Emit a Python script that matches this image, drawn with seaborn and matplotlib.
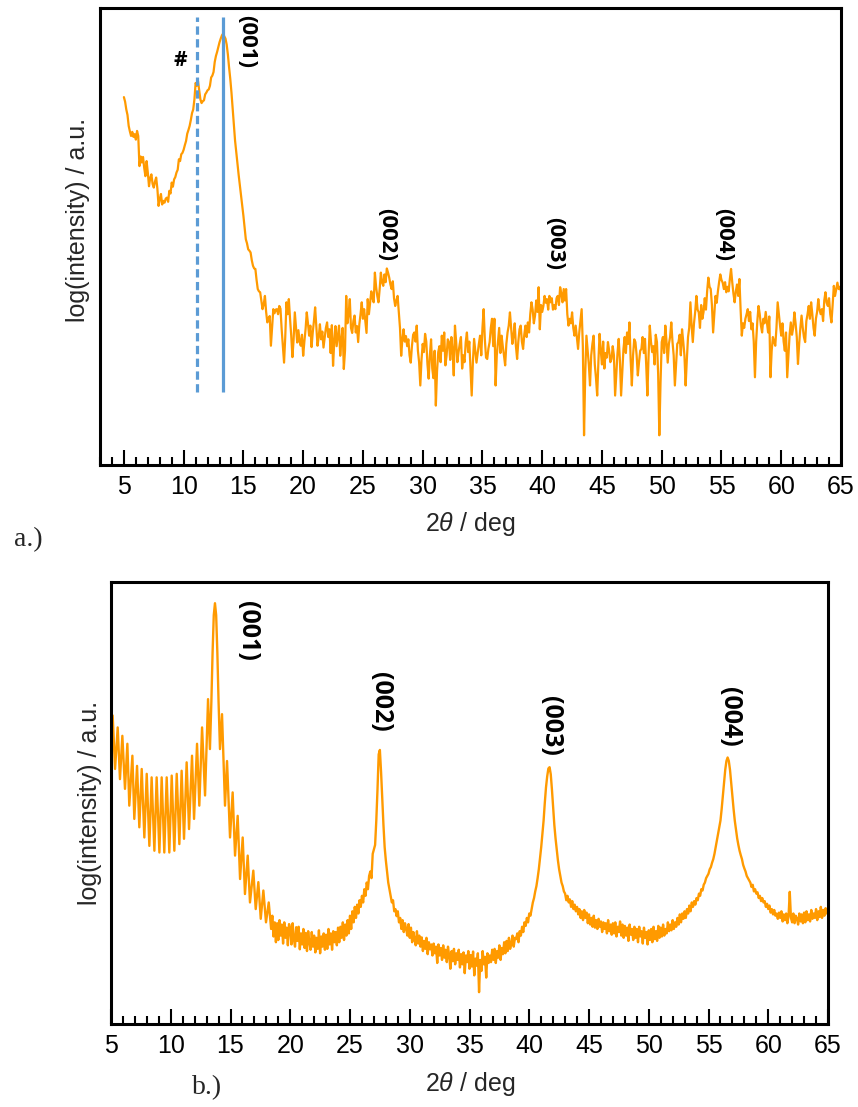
import numpy as np
import pandas as pd
import matplotlib
matplotlib.use('Agg')
import matplotlib.pyplot as plt
import seaborn as sns
from matplotlib.ticker import MultipleLocator

# ---------------- data (log intensity, arbitrary units 0-100) ----------------
# panel a: scan from 5.0 deg in 0.1 deg steps
a_start, a_step = 5.0, 0.1
a_y = [
    80.5, 79.5, 77.8, 76.6, 74.2, 73.0, 72.0, 72.9,
    71.8, 72.4, 71.2, 73.1, 72.0, 65.4, 67.5, 66.2, 67.4, 65.0,
    63.2, 66.5, 64.0, 61.0, 62.8, 63.6, 61.5, 60.7, 62.0, 62.9,
    60.5, 56.7, 58.2, 59.3, 57.0, 57.8, 57.4, 58.3, 58.5, 57.6,
    60.0, 59.4, 61.8, 60.9, 62.5, 63.0, 64.0, 64.6, 66.9, 66.5,
    68.0, 68.3, 69.0, 70.0, 70.9, 72.5, 73.3, 74.2, 75.5, 77.0,
    77.8, 80.0, 83.6, 83.0, 84.0, 82.0, 80.0, 79.2, 79.6, 79.8,
    81.1, 81.5, 82.0, 82.2, 83.0, 84.8, 85.2, 86.0, 88.2, 89.5,
    90.4, 91.5, 92.5, 93.3, 94.0, 94.4, 93.8, 93.3, 92.0, 89.8,
    87.0, 84.5, 81.5, 78.0, 74.5, 71.0, 68.5, 66.0, 63.5, 61.3,
    59.3, 57.0, 54.5, 52.0, 49.4, 48.5, 47.2, 46.9, 46.5, 44.8,
    43.6, 43.0, 42.9, 40.5, 38.5, 38.0, 37.8, 36.0, 34.1, 35.2,
    37.0, 33.5, 31.2, 32.0, 32.6, 26.1, 30.0, 34.1, 33.2, 34.0,
    34.1, 33.0, 34.8, 34.2, 29.7, 26.0, 22.4, 28.0, 35.6, 33.0,
    36.3, 32.0, 28.3, 23.6, 27.5, 33.4, 30.0, 26.8, 29.5, 27.0,
    26.1, 28.5, 23.9, 27.0, 29.7, 33.4, 31.0, 28.3, 30.5, 25.8,
    29.0, 31.5, 34.5, 30.2, 26.1, 28.0, 30.8, 27.5, 29.2, 25.7,
    27.8, 30.0, 31.2, 28.0, 29.7, 24.5, 30.6, 21.7, 27.0, 30.4,
    26.0, 28.3, 30.5, 23.9, 27.5, 30.0, 21.0, 25.0, 37.0, 31.0,
    33.0, 36.3, 30.0, 28.9, 31.5, 32.7, 29.0, 30.4, 26.9, 30.8,
    33.0, 35.6, 32.0, 34.1, 31.5, 28.9, 36.3, 33.0, 35.6, 38.0,
    36.5, 35.6, 42.1, 39.0, 37.0, 35.6, 38.5, 42.1, 40.0, 39.2,
    41.7, 40.0, 43.0, 42.1, 41.0, 39.5, 38.5, 40.2, 36.5, 34.8,
    36.0, 37.0, 33.5, 30.0, 23.9, 27.5, 29.7, 27.0, 28.2, 26.0,
    27.5, 24.0, 22.4, 26.0, 28.5, 29.0, 27.0, 30.5, 25.0, 22.5,
    17.4, 23.0, 26.5, 24.7, 28.7, 27.0, 22.0, 18.9, 24.0, 27.5,
    21.1, 19.0, 25.0, 13.0, 20.5, 24.7, 26.0, 22.5, 28.3, 25.0,
    29.0, 21.8, 24.0, 27.5, 26.9, 23.0, 28.0, 25.0, 19.6, 30.5,
    27.0, 22.5, 24.7, 26.5, 28.0, 21.1, 24.0, 22.5, 26.9, 29.0,
    24.7, 27.0, 21.0, 15.2, 22.5, 27.6, 25.0, 22.4, 24.5, 26.5,
    28.3, 24.0, 30.0, 34.1, 27.5, 23.5, 23.2, 25.5, 26.9, 30.0,
    32.0, 26.0, 32.0, 17.4, 24.0, 26.9, 30.0, 24.5, 28.3, 26.0,
    24.0, 21.8, 26.5, 29.0, 30.5, 33.4, 30.0, 26.5, 28.3, 31.0,
    26.0, 23.2, 27.0, 29.7, 30.5, 27.0, 25.4, 28.5, 30.5, 28.0,
    31.2, 29.0, 33.0, 35.6, 34.0, 31.0, 32.7, 36.0, 33.5, 38.9,
    29.7, 35.0, 33.5, 34.8, 37.0, 35.5, 36.3, 34.0, 37.0, 35.6,
    36.5, 34.0, 35.0, 34.1, 36.5, 37.0, 35.0, 38.9, 37.5, 35.6,
    38.5, 36.0, 38.5, 33.0, 30.5, 32.0, 31.0, 33.4, 30.0, 28.3,
    30.5, 28.0, 25.4, 29.0, 31.5, 34.1, 26.0, 6.5, 20.0, 28.3,
    25.0, 22.0, 17.4, 24.0, 26.5, 28.3, 22.0, 19.0, 15.2, 22.5,
    28.7, 25.0, 22.0, 27.0, 21.1, 24.5, 23.5, 26.9, 25.0, 22.5,
    23.2, 26.0, 24.0, 15.2, 20.0, 24.5, 27.6, 23.0, 15.2, 20.5,
    25.4, 28.0, 24.5, 29.0, 26.5, 31.2, 23.0, 17.4, 24.0, 27.5,
    26.9, 24.0, 19.6, 22.5, 25.0, 25.4, 28.0, 24.5, 27.6, 22.0,
    15.2, 24.0, 30.5, 27.0, 24.7, 26.0, 22.0, 28.5, 26.9, 20.0,
    6.5, 18.0, 26.9, 28.0, 24.5, 30.5, 27.0, 22.4, 26.5, 28.0,
    31.2, 27.0, 24.0, 17.4, 22.0, 26.5, 26.9, 28.5, 24.0, 29.7,
    27.0, 24.0, 17.4, 23.0, 28.0, 30.0, 35.6, 30.5, 26.9, 31.0,
    33.5, 37.0, 34.0, 33.4, 30.0, 35.0, 32.0, 33.5, 36.5, 34.0,
    38.0, 41.0, 39.0, 38.5, 35.0, 29.0, 33.0, 37.0, 35.5, 38.0,
    40.0, 41.7, 40.5, 39.9, 38.5, 40.0, 37.8, 39.0, 38.0, 40.7,
    42.9, 40.0, 37.5, 35.6, 38.0, 39.5, 37.0, 40.7, 34.0, 28.3,
    31.0, 30.0, 32.0, 33.0, 34.1, 31.5, 33.5, 29.7, 31.0, 27.0,
    19.2, 27.0, 31.5, 34.8, 33.0, 30.5, 29.0, 32.0, 31.0, 33.5,
    31.2, 29.0, 32.5, 19.2, 25.0, 28.0, 27.0, 26.1, 30.0, 35.6,
    33.0, 30.5, 28.3, 31.0, 27.0, 25.0, 29.0, 19.2, 24.0, 28.5,
    31.2, 28.5, 30.0, 33.4, 31.0, 28.0, 22.1, 26.5, 30.0, 32.7,
    30.0, 28.0, 26.9, 31.5, 33.0, 34.8, 32.0, 35.6, 33.0, 30.0,
    28.3, 32.0, 33.5, 36.3, 34.0, 33.0, 34.1, 31.5, 36.0, 37.8,
    35.5, 34.8, 36.5, 33.0, 31.2, 35.0, 39.2, 37.0, 38.5, 39.9,
    38.5, 39.0, 38.0,
]

# panel a reference lines (2theta) and labels
a_ref_pos = [11.1, 13.3]
a_ref_style = ['--', '-']
a_ref_span = (16.0, 98.0)
a_labels = ['(001)', '(002)', '(003)', '(004)']
a_label_x = [15.28, 27.0, 41.07, 55.16]
a_label_y = [98.4, 56.2, 54.3, 56.2]
a_hash_xy = (9.69, 88.6)

# panel b: Laue-fringe region (explicit points) + 0.1 deg scan beyond 18.5
b_x_fr = [5.00, 5.14, 5.34, 5.56, 5.75, 5.95, 6.17, 6.37, 6.53, 6.79, 6.95, 7.18,
          7.37, 7.57, 7.79, 7.99, 8.21, 8.40, 8.63, 8.82, 9.05, 9.24, 9.46, 9.66,
          9.88, 10.08, 10.30, 10.50, 10.72, 10.91, 11.11, 11.33, 11.53, 11.78,
          11.95, 12.20, 12.39, 12.62, 12.87, 13.12, 13.28, 13.40, 13.50, 13.60,
          13.70, 13.80, 13.90, 14.00, 14.12, 14.29, 14.54, 14.71, 14.96, 15.18,
          15.38, 15.60, 15.80, 16.02, 16.21, 16.44, 16.63, 16.91, 17.11, 17.33,
          17.53, 17.75, 17.97, 18.20, 18.40]
b_y_fr = [64.0, 69.8, 57.7, 67.1, 55.4, 65.2, 53.2, 63.4, 49.4, 60.7, 46.4, 58.4,
          44.5, 57.7, 42.2, 56.6, 40.3, 55.8, 39.2, 55.8, 38.8, 55.8, 38.8, 55.8,
          38.8, 56.2, 39.2, 56.6, 40.7, 57.3, 41.9, 59.2, 44.1, 60.7,
          46.4, 63.4, 49.4, 67.1, 51.7, 73.5, 62.2, 73.0, 84.0, 92.5,
          95.2, 92.5, 84.0, 73.0, 62.2, 70.1, 49.4, 59.5, 42.2, 52.4,
          38.1, 47.1, 32.8, 42.2, 29.4, 38.1, 27.5, 34.7, 26.0, 32.1,
          23.8, 30.2, 23.0, 27.5, 21.5]
b_start, b_step = 18.5, 0.1
b_y = [
    24.5, 19.8, 23.0, 18.5, 22.8,
    19.0, 23.5, 20.0, 22.5, 18.2, 23.0, 19.5, 21.8, 17.8, 22.6,
    21.5, 18.0, 22.8, 19.2, 17.5, 21.9, 18.8, 22.0, 16.9, 20.5,
    18.0, 21.5, 17.2, 20.6, 16.5, 21.0, 18.5, 16.8, 20.8, 17.5,
    20.0, 16.2, 19.5, 17.0, 21.2, 16.0, 19.8, 17.5, 20.5, 16.8,
    20.2, 17.0, 21.5, 18.0, 20.5, 16.8, 21.0, 18.5, 20.8, 17.8,
    21.8, 18.5, 22.0, 19.5, 23.0, 19.0, 22.5, 20.0, 23.5, 20.5,
    24.5, 21.5, 25.5, 23.0, 26.5, 24.0, 27.0, 25.0, 28.0, 26.5,
    29.0, 27.5, 30.5, 29.0, 32.0, 30.5, 33.5, 34.5, 33.0, 38.5,
    39.5, 40.5, 46.0, 53.0, 61.0, 62.0, 57.0, 51.0, 45.0, 40.0,
    37.0, 34.5, 32.0, 30.5, 29.0, 27.5, 28.0, 25.5, 26.0, 24.4,
    25.5, 23.0, 24.0, 21.5, 23.5, 20.8, 22.8, 21.5, 20.0, 22.6,
    19.5, 21.8, 18.5, 20.8, 19.2, 17.8, 21.0, 18.2, 20.0, 17.5,
    19.6, 16.5, 18.8, 17.0, 19.5, 15.8, 18.5, 16.9, 18.0, 15.5,
    18.2, 16.0, 17.5, 13.8, 18.0, 15.5, 17.2, 14.5, 17.8, 15.0,
    16.8, 14.0, 17.5, 15.4, 12.5, 16.5, 14.2, 17.0, 13.5, 16.0,
    14.5, 16.8, 12.8, 15.8, 13.5, 16.2, 11.5, 15.5, 14.0, 16.5,
    12.5, 15.6, 13.0, 16.4, 11.0, 14.8, 13.2, 16.0, 7.2, 14.5,
    12.0, 16.5, 13.5, 15.2, 10.5, 16.0, 13.8, 15.5, 14.0, 16.8,
    14.5, 17.0, 13.8, 16.5, 15.0, 17.8, 14.5, 17.2, 15.8, 18.5,
    16.0, 18.8, 16.5, 19.5, 17.0, 18.2, 20.0, 17.5, 19.5, 19.2,
    20.5, 18.5, 21.0, 20.0, 22.0, 20.8, 23.0, 22.2, 24.0, 23.0,
    25.0, 24.5, 26.0, 27.5, 28.5, 30.0, 31.2, 33.0, 35.0, 37.5,
    40.0, 43.0, 46.0, 50.0, 53.5, 56.0, 57.8, 58.1, 56.5, 53.0,
    49.0, 45.0, 42.0, 39.5, 37.0, 35.0, 33.5, 32.0, 31.2, 30.0,
    29.5, 28.0, 29.0, 27.5, 28.2, 26.5, 27.8, 26.0, 27.0, 25.5,
    26.5, 24.8, 26.0, 24.0, 25.5, 23.5, 25.8, 24.0, 25.2, 22.8,
    24.8, 22.5, 24.0, 22.0, 24.5, 21.8, 23.5, 21.5, 23.8, 22.0,
    23.2, 20.8, 23.0, 21.5, 22.8, 20.5, 23.5, 21.0, 22.5, 20.2,
    22.8, 20.5, 23.0, 19.8, 22.0, 20.8, 23.2, 20.0, 22.5, 19.5,
    22.2, 20.0, 21.8, 18.8, 22.5, 20.2, 21.5, 19.0, 22.0, 19.5,
    21.5, 18.5, 22.0, 19.8, 21.0, 18.2, 21.8, 19.5, 20.8, 18.0,
    21.2, 19.0, 21.5, 18.5, 22.0, 19.2, 21.0, 18.8, 22.2, 19.5,
    21.8, 19.8, 22.5, 20.0, 21.5, 20.5, 23.0, 21.0, 22.5, 21.2,
    23.5, 21.5, 23.0, 22.0, 24.0, 22.5, 24.8, 23.0, 25.0, 23.8,
    25.5, 24.0, 26.0, 25.0, 26.8, 25.5, 27.5, 26.5, 27.8, 27.0,
    28.5, 28.0, 29.5, 29.0, 30.5, 30.2, 31.5, 32.0, 33.0, 33.5,
    34.0, 35.0, 35.5, 36.5, 37.3, 38.5, 40.0, 41.5, 43.0, 44.5,
    46.0, 48.6, 51.5, 54.5, 57.5, 59.5, 60.3, 59.5, 57.5, 54.5,
    51.5, 48.6, 46.0, 44.0, 42.0, 40.5, 39.2, 38.2, 37.3, 36.0,
    35.2, 34.5, 33.5, 33.0, 32.5, 32.0, 31.0, 31.5, 30.0, 30.5,
    29.5, 29.8, 28.5, 29.0, 27.8, 28.5, 27.5, 27.8, 26.5, 27.2,
    26.0, 26.8, 25.2, 26.0, 24.8, 25.8, 24.5, 25.0, 23.8, 25.2,
    24.0, 25.5, 23.2, 24.8, 23.5, 25.0, 22.8, 24.5, 29.9, 24.0,
    23.0, 25.0, 22.8, 24.5, 23.8, 22.5, 25.0, 23.2, 24.8, 22.8,
    25.2, 23.0, 25.5, 23.5, 24.8, 23.2, 25.8, 23.8, 25.0, 24.0,
    26.0, 23.5, 25.5, 24.2, 26.5, 24.0, 25.8, 24.5, 26.2, 25.0,
    26.0,
]
b_labels = ['(001)', '(002)', '(003)', '(004)']
b_label_x = [16.4, 27.57, 41.74, 56.74]
b_label_y = [95.8, 79.6, 74.3, 76.3]

# ---------------- build frames ----------------
a_x = a_start + a_step * np.arange(len(a_y))
df_a = pd.DataFrame({'two_theta': a_x, 'logI': a_y})
b_x_grid = b_start + b_step * np.arange(len(b_y))
df_b = pd.DataFrame({'two_theta': np.concatenate([b_x_fr, b_x_grid]),
                     'logI': np.concatenate([b_y_fr, b_y])})

# ---------------- style ----------------
sns.set_theme(style='white')
plt.rcParams['font.family'] = ['Liberation Sans', 'DejaVu Sans']
plt.rcParams['mathtext.fontset'] = 'custom'
plt.rcParams['mathtext.it'] = 'Liberation Sans:italic'
plt.rcParams['mathtext.rm'] = 'Liberation Sans'

ORANGE = '#FF9A00'
BLUE = '#5B9BD5'
W, H = 858, 1107
fig = plt.figure(figsize=(W / 100, H / 100), dpi=100)
fig.patch.set_facecolor('white')


def rect(l, t, r, b):
    return [l / W, 1 - b / H, (r - l) / W, (b - t) / H]


axa = fig.add_axes(rect(100, 8, 841, 465))
axb = fig.add_axes(rect(111, 582, 828, 1024))

sns.lineplot(data=df_a, x='two_theta', y='logI', ax=axa, color=ORANGE,
             linewidth=1.6, estimator=None, sort=False)
sns.lineplot(data=df_b, x='two_theta', y='logI', ax=axb, color=ORANGE,
             linewidth=1.7, estimator=None, sort=False)

for xpos, ls in zip(a_ref_pos, a_ref_style):
    axa.vlines(xpos, a_ref_span[0], a_ref_span[1], colors=BLUE, linewidth=2.3,
               linestyles=ls if ls == '-' else (0, (2.6, 1.4)))

axa.set_xlim(3, 65)
axb.set_xlim(5, 65)
for ax in (axa, axb):
    ax.set_ylim(0, 100)
    ax.set_xlabel('')
    ax.set_ylabel('')
    ax.set_yticks([])
    ax.xaxis.set_major_locator(MultipleLocator(5))
    ax.xaxis.set_minor_locator(MultipleLocator(1))
    ax.tick_params(axis='x', which='major', direction='in', length=10.5,
                   width=1.5, color='black', labelsize=18, pad=7,
                   bottom=True, top=False, labelcolor='black')
    ax.tick_params(axis='x', which='minor', direction='in', length=6,
                   width=1.5, color='black', bottom=True, top=False)
    for sp in ax.spines.values():
        sp.set_visible(True)
        sp.set_color('black')
        sp.set_linewidth(2.2)
    ax.set_facecolor('white')

LBL_FONT = ['Open Sans', 'DejaVu Sans']
for t, x, y in zip(a_labels, a_label_x, a_label_y):
    axa.text(x, y, t, rotation=-90, ha='center', va='top', fontsize=16,
             fontweight='bold', family=LBL_FONT, color='black')
axa.text(a_hash_xy[0], a_hash_xy[1], '#', ha='center', va='center',
         fontsize=15, fontweight='bold', family=LBL_FONT, color='black')
for t, x, y in zip(b_labels, b_label_x, b_label_y):
    axb.text(x, y, t, rotation=-90, ha='center', va='top', fontsize=18,
             fontweight='bold', family=LBL_FONT, color='black')

xl = r'2$\mathit{\theta}$ / deg'
fig.text(470 / W, 1 - 524 / H, xl, ha='center', va='center', fontsize=18)
fig.text(470 / W, 1 - 1084 / H, xl, ha='center', va='center', fontsize=18)
fig.text(78 / W, 1 - 220 / H, 'log(intensity) / a.u.', rotation=90,
         ha='center', va='center', fontsize=18)
fig.text(90 / W, 1 - 803 / H, 'log(intensity) / a.u.', rotation=90,
         ha='center', va='center', fontsize=18)
fig.text(28 / W, 1 - 540 / H, 'a.)', ha='center', va='center', fontsize=20,
         family=['Liberation Serif'])
fig.text(207 / W, 1 - 1088 / H, 'b.)', ha='center', va='center', fontsize=20,
         family=['Liberation Serif'])

fig.savefig('out.png', dpi=100, facecolor='white')
